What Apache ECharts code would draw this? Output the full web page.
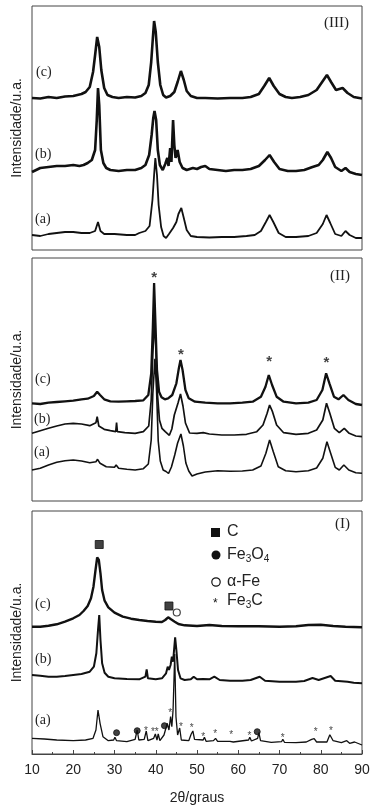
<!DOCTYPE html>
<html>
<head>
<meta charset="utf-8">
<style>
  html, body { margin: 0; padding: 0; background: #fff; }
  #chart { width: 376px; height: 809px; }
</style>
<script src="https://cdn.jsdelivr.net/npm/echarts@6/dist/echarts.min.js"></script>
</head>
<body>
<div id="chart"></div>
<script>
// 2θ (graus) vs intensidade (u.a., deslocada por curva)
// painel (III)
const p3c = [[10,152],[12,151.5],[14,153],[16,152],[18,153.5],[20,154],[21,155],[22,156],[23,158],[24,163],[24.8,178],[25.3,195],[25.8,213],[26.3,203],[26.8,180],[27.5,162],[28.3,155],[29.5,153],[31,152],[33,153],[35,152.5],[36.5,154],[37.5,157],[38.3,165],[38.9,188],[39.3,212],[39.6,229],[40,218],[40.5,188],[41.1,165],[41.8,155],[42.5,152.5],[43.5,154],[44.5,158],[45.3,168],[46.1,179],[46.8,170],[47.5,159],[48.5,154],[50,152],[52,152],[55,151.5],[58,152],[61,152],[63,153],[65,156],[66.3,164],[67.5,172],[68.6,164],[70,156],[71.5,153],[73,152],[75,153],[77,155],[79,160],[80.5,169],[81.5,175],[82.5,168],[83.7,160],[85.3,162],[86.5,157],[88,153],[90,151.5]]
const p3b = [[10,78],[11,80],[12,82],[14,83],[16,84],[18,84],[20,85],[21.5,84],[22.5,85],[23.5,87],[24.5,90],[25.3,100],[25.7,130],[26,162],[26.3,145],[26.7,100],[27.3,87],[28,82],[29,80],[31,79],[33,80],[35,80],[36.5,82],[37.5,85],[38.4,95],[39,115],[39.4,132],[39.7,139],[40.1,130],[40.5,100],[41,85],[41.7,80],[42.3,86],[42.8,92],[43.1,84],[43.5,102],[43.8,88],[44.2,130],[44.5,105],[44.8,92],[45.3,100],[45.8,88],[46.5,82],[47.5,80],[49,82],[50,81],[51,83],[52,84],[53,81],[55,80],[57,79],[59,80],[61,80],[63,81],[65,84],[66.5,90],[67.6,95],[68.7,88],[70,81],[72,79],[74,79],[76,80],[78,83],[79.5,85],[80.5,90],[81.6,98],[82.5,92],[83.5,83],[85,79],[86,82],[87,78],[88.5,76],[90,75]]
const p3a = [[10,15],[12,14],[14,16],[16,17],[18,18],[20,18],[22,17],[24,17],[25.3,19],[26,28],[26.6,19],[27.5,16],[30,16],[33,15],[35,15],[36,17],[37.5,19],[38.5,24],[39.2,50],[39.6,75],[39.9,92],[40.3,75],[40.7,45],[41.3,23],[41.9,14],[42.5,12],[43.2,16],[44.2,22],[45,28],[45.5,36],[46.2,42],[46.8,32],[47.5,20],[48.5,14],[50,13],[53,12.5],[56,13],[59,13],[62,14],[64,15],[65.5,19],[66.7,28],[67.6,35],[68.5,28],[69.8,17],[71.5,13],[74,13],[77,14],[79,17],[80.5,26],[81.4,35],[82.3,27],[83.5,16],[85,14],[86,19],[87,15],[88.5,12],[90,12]]

// painel (II)
const p2c = [[10,97.7],[12,97],[14,98.3],[16,99],[18,99.7],[20,100.3],[22,101.7],[23.5,102.3],[25,105],[25.8,109.3],[26.5,106],[27.5,101.7],[29,99.7],[31,99.3],[33,99.7],[35,100],[37,100.7],[38.2,106],[38.9,127.7],[39.3,174.3],[39.6,218],[39.9,181],[40.3,131],[40.8,109.3],[41.4,103.7],[42.2,101.7],[43,102.7],[44,106],[45,117.7],[45.6,132.7],[46,141],[46.5,131],[47.2,111],[48,102.7],[49.5,99.3],[52,98.3],[55,97.7],[58,97.7],[61,98.3],[63.5,99.3],[65.5,104.3],[66.6,114.3],[67.4,126],[68.2,116],[69.3,104.3],[71,99.3],[74,97.7],[77,98.3],[79,101],[80.4,111],[81.3,127.7],[82.1,117.7],[83.2,104.3],[84.3,101.7],[85.5,106],[86.7,101],[88.5,97],[90,96]]
const p2b = [[10,67.7],[12,70.3],[14,72.7],[16,75],[18,77],[20,77.7],[22,77],[24,75.3],[25.5,78.3],[25.8,84.3],[26.2,75],[27.5,71.7],[29,70.3],[30.3,69.3],[30.5,78.3],[30.7,69.3],[32.5,68.3],[35,67.7],[37,69.3],[38.3,75],[38.9,101],[39.3,147.7],[39.7,181],[40,154.3],[40.4,107.7],[40.9,81],[41.5,72.7],[42.3,69.3],[43.3,65.7],[43.9,72],[44.5,86],[44.8,84],[45.4,98],[46,107],[46.6,95],[47.2,78],[48.2,68],[50,67.7],[51.5,68.3],[53,67],[56,66],[59,66],[62,66.7],[64.5,69.3],[66,76],[67,87.7],[67.6,96],[68.3,89.3],[69.3,76],[71,68.3],[74,66.7],[77,67.7],[79,71],[80.5,81],[81.4,97.7],[82.2,87.7],[83.3,72.7],[84.5,68.3],[85.7,72.7],[86.9,67.7],[88.5,65],[90,64.3]]
const p2a = [[10,31],[12,32.7],[14,36],[16,38.7],[18,40.3],[20,41],[22,40],[24,38.3],[25.5,39.3],[25.9,41.7],[26.5,37.7],[28,34.3],[30,33.7],[30.4,36],[31,32.7],[33,31.7],[35,31],[37,32.3],[38.2,37],[38.9,61],[39.3,107.7],[39.8,142.3],[40.2,110],[40.6,60],[41.1,40],[41.8,31],[42.5,29.5],[43.1,27.5],[43.8,34],[44.6,46],[45.3,58],[46.1,67],[46.7,55],[47.3,38],[48,30],[48.8,25],[50,27],[52,29],[55,30.3],[58,29.7],[61,30],[63.5,31],[65.5,35],[66.7,47.7],[67.6,61],[68.5,49.3],[69.7,34.3],[71.5,30.3],[74,29.3],[77,30.3],[79,33],[80.5,42.7],[81.5,59.3],[82.4,47.7],[83.5,33.7],[84.5,31],[85.6,36],[86.8,31],[88.5,28.3],[90,27.7]]

// painel (I)
const p1c = [[10,127.3],[12,127.3],[14,128.3],[16,129.7],[18,132.3],[20,135.7],[21.5,139],[22.5,143],[23.5,148],[24.3,155.7],[24.9,167.3],[25.4,184],[25.8,196.7],[26.2,194],[26.6,180.7],[27,164],[27.6,153.3],[28.5,146.7],[30,141.3],[32,137.3],[34,135.3],[36,134],[38,133],[40,132.3],[41.5,132],[42.3,134],[43,136.7],[43.7,134.7],[44.6,132.3],[45.5,130],[47,128.7],[50,128],[53,129],[56,128],[60,127.7],[65,127.7],[70,127.3],[74,127.7],[77,129],[80,129.3],[83,128],[86,127.3],[90,126.7]]
const p1b = [[10,79],[12,78.3],[14,77.3],[16,77.3],[18,78],[20,79],[22,80],[24,82.3],[25,87.3],[25.6,100.7],[26,124],[26.3,139],[26.6,114],[27,90.7],[27.6,81.3],[28.5,77.3],[30,75.7],[33,75],[36,74.7],[37.5,77.3],[37.8,84.7],[38.1,75.7],[40,74.7],[41.5,75.7],[42.5,80.7],[42.9,87.3],[43.2,84],[43.6,89],[43.9,97.3],[44.2,92.3],[44.7,116.7],[45,104],[45.4,84],[46,75.7],[47,74],[48.5,74.7],[49.2,77.3],[50,74.7],[51.5,75],[53,74.7],[54.2,77.3],[55.5,74],[58,73.3],[61,73.3],[63,74],[65.2,77.3],[66.5,73.3],[70,72.3],[74,72.3],[76,73],[78,76],[79.5,74],[82.4,78],[83.5,73.3],[86.5,72.3],[88,71.3],[90,70.7]]
const p1a = [[10,15.7],[13,15],[16,14],[20,13.3],[23,14],[24.8,15.7],[25.5,24],[26,44],[26.5,30.7],[27.2,17.3],[28.5,13.3],[29.8,14],[30.1,16.7],[30.5,13.3],[33,12.3],[35,14.7],[35.5,24],[35.9,14],[37.2,14.7],[37.7,23],[38.1,13.3],[39.5,15.7],[39.9,20],[40.3,14],[40.6,20],[41,13.3],[42,19],[42.8,30.7],[43.2,24],[43.6,37.3],[43.9,27.3],[44.2,44],[44.6,100],[44.9,37.3],[45.3,19],[45.8,26],[46.2,14],[48,13.3],[48.6,20],[49,23],[49.4,14.7],[51.5,14],[51.8,16.7],[52.2,12.7],[54,13.3],[54.5,15.7],[55,12.7],[58,12.7],[58.3,14.7],[58.8,12],[62.5,14],[62.8,16.7],[63.2,13],[64.7,15.7],[65,21.3],[65.4,13.3],[68,11.7],[70.5,12.3],[70.8,14.7],[71.2,11.7],[74,11.3],[76.5,12],[77.8,14.7],[78.4,15.3],[79,12],[81.5,12],[82.2,19.3],[82.5,21],[83,13.3],[85,11.3],[86.3,13.3],[87,10.7],[88.2,12],[90,9]]

// marcadores de fases
const starsII = [[39.6,227],[46.1,150.3],[67.5,142.7],[81.4,141.7]]
const squaresI = [[26.3,209.5],[43.2,148]]
const openCircleI = [[45.1,141.5]]
const dotsI = [[30.5,21.3],[35.5,23.3],[42.1,28.3],[64.6,22.3]]
const starsI = [[37.6,25.7],[39.3,24.7],[40.2,24.7],[43.5,43],[46.1,29.7],[48.7,28],[51.5,19.3],[54.4,22.7],[58.3,21.7],[62.7,20.7],[70.8,18.7],[78.8,24.7],[82.5,25.3]]

const sans = 'Liberation Sans, Arial, sans-serif'
const serif = 'Liberation Serif, Times New Roman, serif'
const ink = '#111'

const grids = [
  { left: 32, right: 14, top: 6, height: 244 },
  { left: 32, right: 14, top: 258, height: 243 },
  { left: 32, right: 14, top: 511, height: 243 }
].map(g => ({ ...g, show: true, borderColor: '#444', borderWidth: 1, backgroundColor: 'transparent' }))

const xAxes = [0, 1, 2].map(i => ({
  gridIndex: i,
  type: 'value',
  min: 10,
  max: 90,
  interval: 10,
  show: i === 2,
  axisLine: { lineStyle: { color: '#444', width: 1 } },
  axisTick: { inside: true, length: 4, lineStyle: { color: '#444' } },
  minorTick: { show: true, splitNumber: 2, length: 2, lineStyle: { color: '#444' } },
  splitLine: { show: false },
  axisLabel: { fontSize: 14, color: '#222', fontFamily: sans, margin: 9 },
  name: i === 2 ? '2θ/graus' : '',
  nameLocation: 'middle',
  nameGap: 37,
  nameTextStyle: { fontSize: 14, color: '#222', fontFamily: sans }
}))

const yAxes = [244, 243, 243].map((h, i) => ({
  gridIndex: i,
  type: 'value',
  min: 0,
  max: h,
  axisLine: { show: false },
  axisTick: { show: false },
  axisLabel: { show: false },
  splitLine: { show: false },
  name: 'Intensidade/u.a.',
  nameLocation: 'middle',
  nameGap: 8,
  nameTextStyle: { fontSize: 14, color: '#222', fontFamily: sans }
}))

function curve(data, idx, width) {
  return {
    type: 'line', xAxisIndex: idx, yAxisIndex: idx, data,
    symbol: 'none', lineStyle: { color: ink, width }, silent: true
  }
}

function marks(data, idx, symbol, size, text, fontSize, weight) {
  const s = {
    type: 'scatter', xAxisIndex: idx, yAxisIndex: idx, data,
    symbol, symbolSize: size, silent: true,
    itemStyle: { color: ink, borderColor: ink }
  }
  if (text) {
    s.itemStyle = { color: 'rgba(0,0,0,0)' }
    s.label = { show: true, position: 'inside', formatter: text, fontSize, fontWeight: weight || 'normal', color: ink, fontFamily: sans, offset: [0, fontSize * 0.25] }
  }
  return s
}

const series = [
  curve(p3c, 0, 2.6), curve(p3b, 0, 2.6), curve(p3a, 0, 1.8),
  curve(p2c, 1, 2.3), curve(p2b, 1, 1.7), curve(p2a, 1, 1.6),
  curve(p1c, 2, 2.4), curve(p1b, 2, 2), curve(p1a, 2, 1.3),
  marks(starsII, 1, 'circle', 2, '*', 15, 'bold'),
  marks(squaresI, 2, 'rect', 8),
  { ...marks(openCircleI, 2, 'circle', 7), itemStyle: { color: '#fff', borderColor: ink, borderWidth: 1.2 } },
  marks(dotsI, 2, 'circle', 6),
  marks(starsI, 2, 'circle', 2, '*', 10)
]

// y = centro vertical do texto
const tag = (text, left, y, size) => ({
  type: 'text', left, top: y - (size || 14) / 2 - 1,
  style: { text, font: `${size || 14}px ${serif}`, fill: '#222' }
})

const legendText = (rich, y) => ({
  type: 'text', left: 227, top: y - 9,
  style: {
    text: rich, fill: '#222',
    font: `16px ${sans}`,
    rich: { sub: { fontSize: 10, verticalAlign: 'bottom', padding: [8, 0, 0, 0], fontFamily: sans, fill: '#222' } }
  }
})

const graphic = [
  tag('(III)', 324, 24, 15), tag('(II)', 330, 277, 15), tag('(I)', 335, 525, 15),
  tag('(c)', 36, 73), tag('(b)', 35, 155), tag('(a)', 35, 220),
  tag('(c)', 35, 380), tag('(b)', 34, 420), tag('(a)', 34, 453),
  tag('(c)', 35, 605), tag('(b)', 35, 660), tag('(a)', 35, 721),
  { type: 'rect', shape: { x: 211, y: 528, width: 9, height: 9 }, style: { fill: ink } },
  { type: 'circle', shape: { cx: 216, cy: 555, r: 4.5 }, style: { fill: ink } },
  { type: 'circle', shape: { cx: 216, cy: 582, r: 4.2 }, style: { fill: '#fff', stroke: ink, lineWidth: 1.2 } },
  { type: 'text', left: 213, top: 598, style: { text: '*', font: `12px ${sans}`, fill: ink } },
  legendText('C', 533),
  legendText('Fe{sub|3}O{sub|4}', 556),
  legendText('α-Fe', 583),
  legendText('Fe{sub|3}C', 602)
]

const chart = echarts.init(document.getElementById('chart'))
chart.setOption({
  animation: false,
  grid: grids,
  xAxis: xAxes,
  yAxis: yAxes,
  series,
  graphic
})
</script>
</body>
</html>
